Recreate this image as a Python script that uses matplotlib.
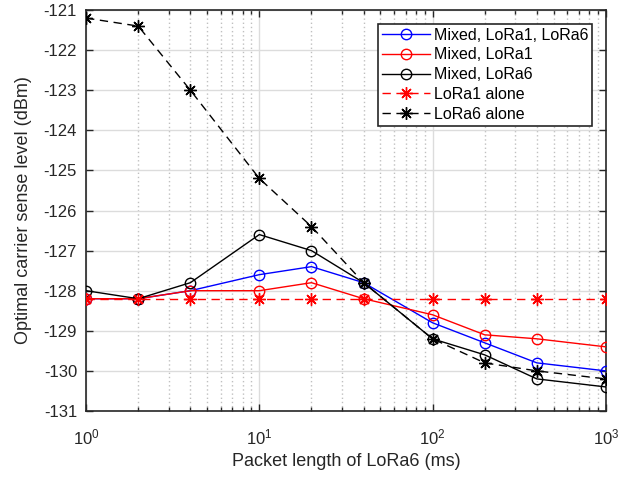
import matplotlib
matplotlib.use("Agg")
import matplotlib.pyplot as plt
from matplotlib.ticker import LogLocator, NullFormatter, FixedLocator

plt.rcParams['font.family'] = ['Liberation Sans', 'DejaVu Sans']

packet_len = [1, 2, 4, 10, 20, 40, 100, 200, 400, 1000]
mixed_both = [-128.2, -128.2, -128.0, -127.6, -127.4, -127.8, -128.8, -129.3, -129.8, -130.0]
mixed_lora1 = [-128.2, -128.2, -128.0, -128.0, -127.8, -128.2, -128.6, -129.1, -129.2, -129.4]
mixed_lora6 = [-128.0, -128.2, -127.8, -126.6, -127.0, -127.8, -129.2, -129.6, -130.2, -130.4]
lora1_alone = [-128.2] * 10
lora6_alone = [-121.2, -121.4, -123.0, -125.2, -126.4, -127.8, -129.2, -129.8, -130.0, -130.2]
y_ticks = [-121, -122, -123, -124, -125, -126, -127, -128, -129, -130, -131]

fig = plt.figure(figsize=(6.33, 4.79), dpi=100)
ax = fig.add_axes([0.136, 0.142, 0.821, 0.837])

star = (8, 2, 0)
ms_c = 7.5
ms_s = 9
dash = (0, (6, 4))
ax.plot(packet_len, mixed_both, color='#0000ff', lw=1.0, marker='o', ms=ms_c,
        mfc='none', mew=1.0, label='Mixed, LoRa1, LoRa6', zorder=3)
ax.plot(packet_len, mixed_lora1, color='#ff0000', lw=1.0, marker='o', ms=ms_c,
        mfc='none', mew=1.0, label='Mixed, LoRa1', zorder=3)
ax.plot(packet_len, mixed_lora6, color='black', lw=1.0, marker='o', ms=ms_c,
        mfc='none', mew=1.0, label='Mixed, LoRa6', zorder=3)
ax.plot(packet_len, lora1_alone, color='#ff0000', lw=1.0, ls=dash, marker=star,
        ms=ms_s, mew=1.0, label='LoRa1 alone', zorder=3)
ax.plot(packet_len, lora6_alone, color='black', lw=1.0, ls=dash, marker=star,
        ms=ms_s, mew=1.0, label='LoRa6 alone', zorder=3)

ax.set_xscale('log')
ax.set_xlim(1, 1000)
ax.set_ylim(-131, -121)
ax.yaxis.set_major_locator(FixedLocator(y_ticks))
ax.set_yticklabels([str(t) for t in y_ticks])
ax.xaxis.set_minor_locator(LogLocator(base=10, subs=range(2, 10), numticks=20))
ax.xaxis.set_minor_formatter(NullFormatter())

ax.grid(True, which='major', color='#dcdcdc', lw=1.0, ls='-', zorder=0)
ax.grid(True, which='minor', axis='x', color='#c0c0c0', lw=1.0, ls=(0, (1, 2)), zorder=0)
ax.set_axisbelow(True)

ax.tick_params(which='both', direction='in', top=True, right=True, labelsize=12,
               color='#262626', labelcolor='#262626', width=1.0)
ax.tick_params(which='major', length=5)
ax.tick_params(which='minor', length=3)
ax.tick_params(axis='y', which='major', pad=6.5)
ax.tick_params(axis='x', which='major', pad=12)
for s in ax.spines.values():
    s.set_color('#262626')
    s.set_linewidth(1.2)

ax.set_xlabel('Packet length of LoRa6 (ms)', fontsize=13, color='#262626', labelpad=4)
ax.set_ylabel('Optimal carrier sense level (dBm)', fontsize=13, color='#262626', labelpad=8)

leg = ax.legend(loc='upper right', fontsize=11.5, frameon=True, fancybox=False,
                edgecolor='#262626', framealpha=1, handlelength=3.0, handletextpad=0.25,
                borderpad=0.25, labelspacing=0.3, borderaxespad=0.85)
leg.get_frame().set_linewidth(1.2)

fig.savefig('out.png', dpi=100)
